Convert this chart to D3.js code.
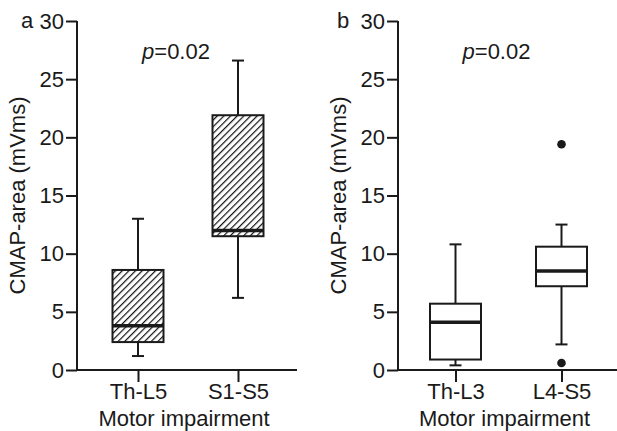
<!DOCTYPE html>
<html><head><meta charset="utf-8">
<script src="https://cdn.jsdelivr.net/npm/d3@7"></script>
<style>body{margin:0;background:#fff}svg{display:block;font-family:"Liberation Sans",Arial,Helvetica,sans-serif}</style>
</head><body><svg id="c" width="617" height="431"></svg>
<script>
const yTicks = [0,5,10,15,20,25,30];
const panelA = {label:"a", categories:["Th-L5","S1-S5"], hatched:true,
  stats:[{lo:1.2,q1:2.4,med:3.8,q3:8.6,hi:13.0,out:[]},
         {lo:6.2,q1:11.5,med:12.0,q3:21.9,hi:26.6,out:[]}]};
const panelB = {label:"b", categories:["Th-L3","L4-S5"], hatched:false,
  stats:[{lo:0.4,q1:0.9,med:4.1,q3:5.7,hi:10.8,out:[]},
         {lo:2.2,q1:7.2,med:8.5,q3:10.6,hi:12.5,out:[19.4,0.6]}]};
const pText = "0.02";
const yTitle = "CMAP-area (mVms)";
const xTitle = "Motor impairment";

const svg = d3.select("#c");
const defs = svg.append("defs");
const ps = 4.7;
const pat = defs.append("pattern").attr("id","hatch").attr("patternUnits","userSpaceOnUse")
  .attr("width",ps).attr("height",ps).attr("patternTransform","rotate(45)");
pat.append("rect").attr("width",ps).attr("height",ps).attr("fill","#fff");
pat.append("line").attr("x1",0).attr("y1",0).attr("x2",0).attr("y2",ps)
  .attr("stroke","#111").attr("stroke-width",2.4);

const FS = 22;
function drawPanel(p, x0, x1, xt, labelX) {
  const y = d3.scaleLinear().domain([0,30]).range([370,21]);
  const x = d3.scalePoint().domain(p.categories).range(xt);
  const g = svg.append("g");
  const ya = g.append("g").attr("transform",`translate(${x0},0)`)
    .call(d3.axisLeft(y).tickValues(yTicks).tickSize(11).tickPadding(2));
  ya.select(".domain").attr("d",`M0,${y(30)}V${y(0)}`);
  const xa = g.append("g").attr("transform",`translate(0,${y(0)})`)
    .call(d3.axisBottom(x).tickSize(12).tickPadding(1));
  xa.select(".domain").attr("d",`M${x0},0H${x1}`);
  g.selectAll(".domain,.tick line").attr("stroke","#1a1a1a").attr("stroke-width",2);
  g.selectAll(".tick text").attr("font-size",FS).attr("fill","#1a1a1a");
  xa.selectAll(".tick text").attr("dy","0.71em");
  const mid = (xt[0]+xt[1])/2;
  g.append("text").attr("transform",`translate(${x0-52},${(y(0)+y(30))/2}) rotate(-90)`)
    .attr("text-anchor","middle").attr("font-size",FS).attr("fill","#1a1a1a").text(yTitle);
  g.append("text").attr("x",mid-4).attr("y",426).attr("text-anchor","middle")
    .attr("font-size",FS).attr("fill","#1a1a1a").text(xTitle);
  g.append("text").attr("x",labelX).attr("y",28).attr("font-size",FS).attr("fill","#1a1a1a").text(p.label);
  const pt = g.append("text").attr("x",mid-12).attr("y",59).attr("text-anchor","middle")
    .attr("font-size",FS).attr("fill","#1a1a1a");
  pt.append("tspan").attr("font-style","italic").text("p");
  pt.append("tspan").text("="+pText);
  const bw = 51, cap = 12;
  p.stats.forEach((s,i)=>{
    const cx = x(p.categories[i]);
    const bg = g.append("g").attr("stroke","#1a1a1a").attr("stroke-width",2);
    bg.append("line").attr("x1",cx).attr("x2",cx).attr("y1",y(s.hi)).attr("y2",y(s.q3));
    bg.append("line").attr("x1",cx).attr("x2",cx).attr("y1",y(s.q1)).attr("y2",y(s.lo));
    bg.append("line").attr("x1",cx-cap/2).attr("x2",cx+cap/2).attr("y1",y(s.hi)).attr("y2",y(s.hi));
    bg.append("line").attr("x1",cx-cap/2).attr("x2",cx+cap/2).attr("y1",y(s.lo)).attr("y2",y(s.lo));
    bg.append("rect").attr("x",cx-bw/2).attr("width",bw).attr("y",y(s.q3)).attr("height",y(s.q1)-y(s.q3))
      .attr("fill",p.hatched?"url(#hatch)":"#fff");
    bg.append("line").attr("x1",cx-bw/2).attr("x2",cx+bw/2).attr("y1",y(s.med)).attr("y2",y(s.med))
      .attr("stroke-width",3.5);
    s.out.forEach(o=>g.append("circle").attr("cx",cx).attr("cy",y(o)).attr("r",4.3).attr("fill","#1a1a1a"));
  });
}
drawPanel(panelA, 77, 297, [138,238], 21);
drawPanel(panelB, 398, 617, [455.5,561.5], 337);
</script></body></html>
